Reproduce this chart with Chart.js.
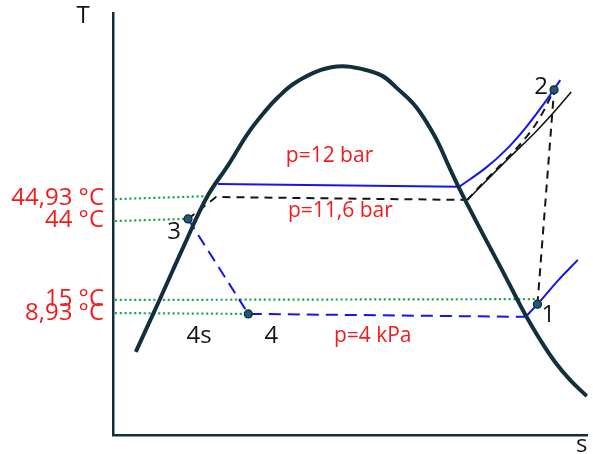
<!DOCTYPE html>
<html>
<head>
<meta charset="utf-8">
<script src="https://cdn.jsdelivr.net/npm/chart.js@4/dist/chart.umd.min.js"></script>
<style>
  html, body { margin: 0; padding: 0; background: #ffffff; }
  #wrap { width: 593px; height: 454px; position: relative; }
</style>
</head>
<body>
<div id="wrap"><canvas id="ts"></canvas></div>
<script>
// T-s diagram of a vapour compression cycle (schematic, arbitrary s/T units 0..100)

// Saturation dome
const domeS = [4.8, 9.8, 15.0, 19.8, 24.4, 28.5, 32.1, 34.8, 38.3, 43.8, 48.3, 52.5, 56.7, 59.8, 64.0, 68.1, 70.6, 72.9, 74.8, 78.1, 81.7, 85.2, 86.9, 90.0, 93.1, 96.3, 99.8];
const domeT = [19.7, 32.0, 45.0, 56.4, 64.2, 71.6, 76.8, 80.1, 83.4, 86.5, 87.4, 86.7, 85.1, 82.2, 77.5, 70.1, 64.0, 58.5, 54.3, 47.2, 39.6, 32.0, 28.4, 22.5, 17.3, 13.0, 9.2];

// Cycle states 1..4
const stateNames = ['1', '2', '3', '4'];
const stateS = [89.4, 92.9, 15.8, 28.5];
const stateT = [31.0, 81.8, 51.2, 28.7];

// p = 12 bar isobar: two-phase part and superheated part
const p12FlatS = [22.1, 72.9];
const p12FlatT = [59.5, 58.8];
const p12SupS = [72.9, 78.5, 82.7, 86.9, 91.0, 94.2];
const p12SupT = [58.8, 63.3, 67.5, 72.8, 78.9, 84.1];

// p = 11,6 bar path (3 -> saturated vapour -> 2)
const p116FlatS = [15.8, 21.7, 74.6];
const p116FlatT = [51.2, 56.4, 55.7];
const p116SupS = [74.6, 78.5, 82.7, 86.9, 90.0, 92.9];
const p116SupT = [55.7, 60.4, 65.2, 70.4, 75.4, 81.8];

// Isentrope-like reference curve from saturated vapour
const refCurveS = [74.8, 82.1, 89.0, 92.7, 96.5];
const refCurveT = [55.9, 64.2, 71.8, 76.3, 81.3];

// p = 4 kPa: throttling 3 -> 4, evaporation, superheated vapour through 1
const throttleS = [15.8, 28.5, 86.9];
const throttleT = [51.2, 28.7, 28.0];
const p4SupS = [86.9, 89.4, 93.8, 97.9];
const p4SupT = [28.0, 31.0, 36.7, 41.5];

// Temperature reference lines and their labels
const tempLabels = ['44,93 °C', '44 °C', '15 °C', '8,93 °C'];
const tempTicks = [56.2, 50.9, 32.1, 28.8];
const tempLineS0 = [0.4, 0.4, 0.4, 0.4];
const tempLineT0 = [55.9, 50.7, 32.0, 28.9];
const tempLineS1 = [20.2, 15.2, 89.0, 27.7];
const tempLineT1 = [56.6, 51.2, 32.2, 28.7];

// Pressure labels
const pressureText = ['p=12 bar', 'p=11,6 bar', 'p=4 kPa'];
const pressureS = [45.6, 47.9, 54.7];
const pressureT = [64.7, 51.7, 22.0];

const pts = (S, T) => S.map((s, i) => ({ x: s, y: T[i] }));

const DARK = '#12303c';
const BLUE = '#1414f0';
const BLACK = '#151515';
const RED = '#f01c1c';
const GREEN = '#2aa65a';

const datasets = [];

// state markers (on top)
datasets.push({
  data: pts(stateS, stateT), showLine: false,
  pointRadius: 4, pointBackgroundColor: '#1e5a70', pointBorderColor: '#0c2630', pointBorderWidth: 1.2,
  order: 0
});
// dome
datasets.push({
  data: pts(domeS, domeT), borderColor: DARK, borderWidth: 4,
  tension: 0.4, pointRadius: 0, order: 1
});
// 12 bar
datasets.push({ data: pts(p12FlatS, p12FlatT), borderColor: BLUE, borderWidth: 2, pointRadius: 0, order: 2 });
datasets.push({ data: pts(p12SupS, p12SupT), borderColor: BLUE, borderWidth: 2, pointRadius: 0, tension: 0.4, order: 2 });
// 11,6 bar dashed
datasets.push({ data: pts(p116FlatS, p116FlatT), borderColor: BLACK, borderWidth: 2, borderDash: [8, 6], pointRadius: 0, order: 3 });
datasets.push({ data: pts(p116SupS, p116SupT), borderColor: BLACK, borderWidth: 2, borderDash: [8, 6], pointRadius: 0, tension: 0.4, order: 3 });
// compression 1 -> 2
datasets.push({ data: pts([stateS[0], stateS[1]], [stateT[0], stateT[1]]), borderColor: BLACK, borderWidth: 2, borderDash: [8, 6], pointRadius: 0, order: 3 });
// reference curve
datasets.push({ data: pts(refCurveS, refCurveT), borderColor: BLACK, borderWidth: 1.6, pointRadius: 0, tension: 0.4, order: 3 });
// 4 kPa
datasets.push({ data: pts(throttleS, throttleT), borderColor: BLUE, borderWidth: 2, borderDash: [12, 7], pointRadius: 0, order: 2 });
datasets.push({ data: pts(p4SupS, p4SupT), borderColor: BLUE, borderWidth: 2, pointRadius: 0, tension: 0.4, order: 2 });
// temperature dotted lines
tempLabels.forEach((_, i) => {
  datasets.push({
    data: [{ x: tempLineS0[i], y: tempLineT0[i] }, { x: tempLineS1[i], y: tempLineT1[i] }],
    borderColor: GREEN, borderWidth: 2.2, borderDash: [2.2, 2.6], borderCapStyle: 'butt',
    pointRadius: 0, order: 5
  });
});

const labelPlugin = {
  id: 'tsLabels',
  afterDraw(chart) {
    const { ctx, chartArea: a, scales: { x, y } } = chart;
    ctx.save();
    ctx.textBaseline = 'alphabetic';
    ctx.textAlign = 'center';
    // pressure labels
    ctx.fillStyle = RED;
    ctx.font = '21px "Open Sans"';
    pressureText.forEach((t, i) => {
      ctx.fillText(t, x.getPixelForValue(pressureS[i]), y.getPixelForValue(pressureT[i]));
    });
    // state labels
    ctx.fillStyle = BLACK;
    ctx.font = '24px "Open Sans"';
    const offs = [[11, 18], [-13, 4], [-14, 20], [23, 29]];
    stateNames.forEach((n, i) => {
      ctx.fillText(n, x.getPixelForValue(stateS[i]) + offs[i][0], y.getPixelForValue(stateT[i]) + offs[i][1]);
    });
    ctx.fillText('4s', x.getPixelForValue(stateS[2]) + 11, y.getPixelForValue(stateT[3]) + 29);
    // axis names
    ctx.fillText('T', a.left - 30, a.top + 10);
    ctx.fillText('s', a.right - 6, a.bottom + 17);
    ctx.restore();
  }
};

new Chart(document.getElementById('ts'), {
  type: 'line',
  data: { datasets },
  options: {
    responsive: true,
    maintainAspectRatio: false,
    animation: false,
    layout: { padding: { top: 13, right: 0, left: 0, bottom: 0 } },
    plugins: { legend: { display: false }, tooltip: { enabled: false } },
    scales: {
      x: {
        type: 'linear', min: 0, max: 100,
        grid: { display: false },
        border: { display: true, color: DARK, width: 2.5 },
        ticks: { display: false },
        afterFit(s) { s.height = 19; s.paddingLeft = 0; s.paddingRight = 0; }
      },
      y: {
        type: 'linear', min: 0, max: 100,
        grid: { display: false, drawTicks: false },
        border: { display: true, color: DARK, width: 2.5 },
        afterBuildTicks(s) { s.ticks = tempTicks.map(v => ({ value: v })); },
        ticks: {
          autoSkip: false,
          padding: 9,
          color: RED,
          font: { family: 'Open Sans', size: 24 },
          callback: (v, i) => tempLabels[i]
        },
        afterFit(s) { s.width = 113; s.paddingTop = 0; s.paddingBottom = 0; }
      }
    }
  },
  plugins: [labelPlugin]
});
</script>
</body>
</html>
